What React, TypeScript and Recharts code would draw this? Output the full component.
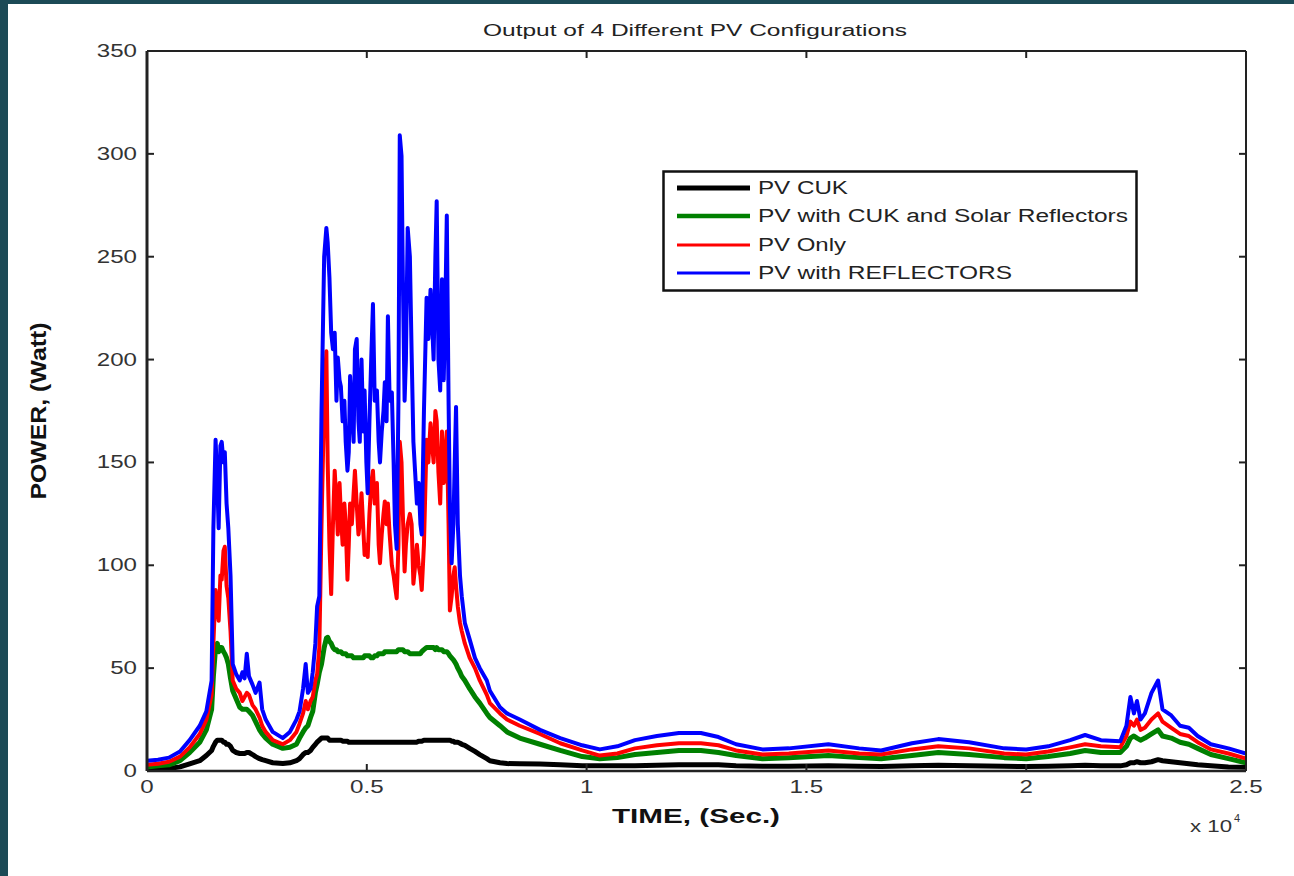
import React from 'react';
import { LineChart, Line, XAxis, YAxis, Legend } from 'recharts';

// time in units of 10^4 seconds
const timeE4 = [
  0.000, 0.025, 0.050, 0.075, 0.097, 0.120, 0.135, 0.147, 0.151, 0.156,
  0.160, 0.163, 0.167, 0.170, 0.174, 0.177, 0.181, 0.185, 0.190, 0.195,
  0.203, 0.211, 0.217, 0.222, 0.227, 0.232, 0.240, 0.247, 0.256, 0.262,
  0.270, 0.286, 0.309, 0.325, 0.340, 0.347, 0.355, 0.361, 0.366, 0.372,
  0.377, 0.383, 0.387, 0.392, 0.397, 0.403, 0.408, 0.411, 0.415, 0.419,
  0.423, 0.427, 0.431, 0.434, 0.438, 0.441, 0.445, 0.449, 0.452, 0.456,
  0.459, 0.462, 0.466, 0.470, 0.473, 0.477, 0.481, 0.484, 0.488, 0.492,
  0.495, 0.499, 0.502, 0.506, 0.510, 0.514, 0.518, 0.523, 0.527, 0.530,
  0.534, 0.538, 0.541, 0.545, 0.548, 0.552, 0.557, 0.561, 0.564, 0.568,
  0.572, 0.575, 0.579, 0.582, 0.586, 0.589, 0.593, 0.598, 0.602, 0.606,
  0.610, 0.614, 0.618, 0.622, 0.625, 0.630, 0.636, 0.640, 0.645, 0.648,
  0.652, 0.656, 0.659, 0.663, 0.667, 0.671, 0.675, 0.679, 0.682, 0.686,
  0.689, 0.693, 0.697, 0.700, 0.703, 0.707, 0.712, 0.716, 0.723, 0.734,
  0.746, 0.757, 0.773, 0.780, 0.803, 0.819, 0.848, 0.894, 0.940, 0.990,
  1.030, 1.070, 1.110, 1.160, 1.210, 1.260, 1.300, 1.340, 1.400, 1.460,
  1.550, 1.620, 1.670, 1.740, 1.800, 1.870, 1.950, 2.000, 2.050, 2.100,
  2.134, 2.170, 2.214, 2.228, 2.237, 2.245, 2.252, 2.260, 2.270, 2.285,
  2.300, 2.310, 2.330, 2.350, 2.370, 2.390, 2.420, 2.460, 2.500,
];

const pvCuk = [
  1.0, 1.0, 1.2, 2.0, 3.5, 5.0, 7.5, 10, 12, 14,
  15, 15, 15, 15, 14, 14, 13, 13, 12, 10,
  9.0, 8.5, 8.5, 8.5, 9.0, 9.0, 8.0, 7.0, 6.0, 5.5,
  5.0, 4.0, 3.6, 4.0, 5.0, 6.0, 8.0, 9.0, 9.0, 10,
  11.5, 13, 14, 15, 16, 16, 16, 16, 15, 15,
  15, 15, 15, 15, 15, 15, 14.5, 14.5, 14.5, 14.5,
  14, 14, 14, 14, 14, 14, 14, 14, 14, 14,
  14, 14, 14, 14, 14, 14, 14, 14, 14, 14,
  14, 14, 14, 14, 14, 14, 14, 14, 14, 14,
  14, 14, 14, 14, 14, 14, 14, 14, 14, 14,
  14, 14, 14.5, 14.5, 14.5, 15, 15, 15, 15, 15,
  15, 15, 15, 15, 15, 15, 15, 15, 15, 15,
  15, 14.5, 14.5, 14, 14, 14, 13.5, 13, 12.5, 11,
  9.5, 8, 6, 5, 4, 3.6, 3.5, 3.4, 3.0, 2.6,
  2.5, 2.5, 2.6, 2.8, 3.0, 3.0, 3.0, 2.6, 2.3, 2.3,
  2.5, 2.3, 2.2, 2.5, 2.8, 2.6, 2.3, 2.2, 2.3, 2.6,
  2.8, 2.6, 2.5, 3.0, 4.0, 4.0, 4.5, 4.0, 4.0, 4.5,
  5.5, 5.0, 4.5, 4.0, 3.5, 3.0, 2.5, 2.0, 1.8,
];

const pvCukReflectors = [
  2.0, 2.5, 3.0, 5.0, 9.0, 14, 20, 30, 46, 60,
  62, 58, 60, 60, 58, 57, 55, 52, 45, 39,
  35, 31, 30, 30, 30, 29, 27, 24, 20, 18,
  16, 13, 11, 11.5, 13, 16, 19, 21, 22, 26,
  29, 38, 42, 48, 52, 60, 64.5, 65, 63, 62,
  60, 59, 59, 58, 58, 58, 57, 57, 57, 56,
  56, 56, 56, 55, 55, 55, 55, 55, 55, 55,
  56, 56, 56, 56, 55, 55, 56, 56, 57, 57,
  57, 57, 58, 58, 58, 58, 58, 58, 58, 58,
  59, 59, 59, 59, 58, 58, 58, 57, 57, 57,
  57, 57, 57, 57, 58, 59, 60, 60, 60, 60,
  60, 59, 60, 59, 59, 59, 58, 58, 58, 57,
  56, 55, 54, 53, 52, 50, 48, 46, 44, 40,
  36, 33, 28, 26, 22, 19, 16, 13, 10, 7,
  6, 6.5, 8, 9, 10, 10, 9, 7.5, 6, 6.5,
  7.5, 6.5, 6, 7.5, 9, 8, 6.5, 6, 7, 8.5,
  10, 9, 9, 12, 16, 17, 16, 15, 16, 18,
  20, 17, 16, 14, 13, 11, 8, 6, 4,
];

const pvOnly = [
  3.0, 3.5, 4.5, 7.0, 11.5, 18, 25, 37, 62, 88,
  80, 73, 95, 93, 107, 109, 90, 84, 68, 44,
  40, 38, 34, 36, 38, 37, 32, 30, 26, 22,
  19, 15, 13, 15, 19, 23, 28, 34, 30, 34,
  36, 44, 47, 60, 120, 180, 204, 150, 110, 86,
  120, 146, 130, 115, 140, 125, 110, 130, 120, 93,
  110, 130, 120, 135, 146, 130, 115, 120, 135, 118,
  105, 110, 104, 125, 140, 146, 130, 140, 110, 101,
  115, 125, 131, 120, 130, 115, 100, 95, 90, 84,
  110, 160, 150, 125, 97, 110, 120, 125, 120, 91,
  100, 110, 100, 95, 88, 110, 161, 150, 169, 160,
  150, 175, 170, 145, 130, 165, 140, 155, 165, 120,
  78, 85, 95, 99, 90, 80, 72, 68, 62, 55,
  50, 44, 37, 33, 28, 25, 22, 18, 13.5, 10,
  7.5, 8.5, 11, 12.5, 13.5, 13.5, 12.5, 10, 8, 8.5,
  10, 8.5, 8, 10.5, 12, 11, 8.5, 8, 9.5, 11.5,
  13, 12, 11.5, 17, 24, 22, 25, 20, 21, 25,
  28, 24, 21, 18, 17, 14, 10.5, 8.5, 6,
];

const pvReflectors = [
  5.0, 5.5, 6.5, 9.5, 15, 22, 29, 44, 118, 161,
  140, 118, 158, 160, 150, 155, 130, 118, 95, 52,
  47, 44, 48, 45, 57, 46, 42, 38, 43, 30,
  25, 19, 16, 19, 25, 29, 40, 52, 38, 40,
  48, 62, 80, 85, 175, 250, 264, 257, 240, 213,
  205, 213, 180, 201, 190, 187, 170, 180, 160, 146,
  155, 192, 175, 160, 205, 210, 170, 160, 200, 165,
  185, 150, 135, 170, 200, 227, 180, 185, 160, 150,
  165, 175, 189, 170, 221, 180, 184, 150, 120, 108,
  180, 309, 299, 240, 180, 200, 264, 250, 203, 160,
  145, 130, 140, 120, 115, 175, 230, 210, 234, 220,
  200, 250, 277, 200, 185, 239, 190, 230, 270, 180,
  128, 101, 120, 150, 177, 120, 95, 85, 72, 64,
  55, 50, 44, 39, 31, 28, 25, 20, 16, 12.5,
  10.5, 12, 15, 17, 18.5, 18.5, 16.5, 13, 10.5, 11,
  13, 11, 10, 13.5, 15.5, 14, 11, 10.5, 12, 15,
  17.5, 15, 14.5, 22, 36, 28, 34, 25, 28, 38,
  44, 30, 27, 22, 21, 17, 13, 11, 8.5,
];

const xTicks = [0, 0.5, 1, 1.5, 2, 2.5];
const yTicks = [0, 50, 100, 150, 200, 250, 300, 350];

const series = [
  { key: 'pvCuk', name: 'PV CUK', color: '#000000', width: 5, legendWidth: 5, textLen: 90 },
  { key: 'pvCukReflectors', name: 'PV with CUK and Solar Reflectors', color: '#008000', width: 5, legendWidth: 4.5, textLen: 370 },
  { key: 'pvOnly', name: 'PV Only', color: '#ff0000', width: 4, legendWidth: 3, textLen: 88 },
  { key: 'pvReflectors', name: 'PV with REFLECTORS', color: '#0000ff', width: 4, legendWidth: 3, textLen: 254 },
];

const data = timeE4.map((t, i) => ({
  t,
  pvCuk: pvCuk[i],
  pvCukReflectors: pvCukReflectors[i],
  pvOnly: pvOnly[i],
  pvReflectors: pvReflectors[i],
}));

const FONT = '"Liberation Sans", Arial, Helvetica, sans-serif';
const AXIS = '#222222';
const TICK_TXT = '#333333';
const TICK_LEN = 7;
const GAP = 10;

const labelWidth = (s: string) => {
  let w = 0;
  for (const ch of s) w += ch === '.' ? 6.8 : 13.4;
  return w;
};

const LeftTick = (props: any) => {
  const { x, y, payload } = props;
  const ax = x + GAP;
  const s = String(payload.value);
  return (
    <g>
      <line x1={ax} x2={ax + TICK_LEN} y1={y} y2={y} stroke={AXIS} strokeWidth={2} />
      <text x={x} y={y} textAnchor="end" dominantBaseline="central" fontFamily={FONT}
        fontSize={18} fill={TICK_TXT} textLength={labelWidth(s)} lengthAdjust="spacingAndGlyphs">{s}</text>
    </g>
  );
};

const RightTick = (props: any) => {
  const { x, y } = props;
  const ax = x - GAP;
  return <line x1={ax - TICK_LEN} x2={ax} y1={y} y2={y} stroke={AXIS} strokeWidth={2} />;
};

const BottomTick = (props: any) => {
  const { x, y, payload } = props;
  const ay = y - GAP;
  const s = String(payload.value);
  return (
    <g>
      <line x1={x} x2={x} y1={ay - TICK_LEN} y2={ay} stroke={AXIS} strokeWidth={2} />
      <text x={x} y={y + 6} textAnchor="middle" dominantBaseline="central" fontFamily={FONT}
        fontSize={18} fill={TICK_TXT} textLength={labelWidth(s)} lengthAdjust="spacingAndGlyphs">{s}</text>
    </g>
  );
};

const TopTick = (props: any) => {
  const { x, y } = props;
  const ay = y + GAP;
  return <line x1={x} x2={x} y1={ay} y2={ay + TICK_LEN} stroke={AXIS} strokeWidth={2} />;
};

const LegendBox = () => {
  const rowY = [18, 46, 75, 103];
  return (
    <svg width={476} height={122} style={{ display: 'block' }}>
      <rect x={1.5} y={1.5} width={473} height={119} fill="#ffffff" stroke="#111" strokeWidth={2.5} />
      {series.map((s, i) => (
        <g key={s.key}>
          <line x1={15} x2={88} y1={rowY[i]} y2={rowY[i]} stroke={s.color} strokeWidth={s.legendWidth} />
          <text x={96} y={rowY[i]} dominantBaseline="central" fontFamily={FONT} fontSize={18}
            fill="#222" textLength={s.textLen} lengthAdjust="spacingAndGlyphs">{s.name}</text>
        </g>
      ))}
    </svg>
  );
};

export default function App() {
  return (
    <div style={{ position: 'absolute', left: 0, top: 0, width: 1294, height: 876, background: '#1c4a56', overflow: 'hidden' }}>
      <div style={{ position: 'absolute', left: 8, top: 4, right: 0, bottom: 0, background: '#ffffff' }} />
      <div style={{ position: 'absolute', left: 0, top: 0 }}>
        <LineChart width={1294} height={876} data={data} margin={{ top: 41, right: 38, bottom: 75, left: 87 }}>
          <XAxis dataKey="t" type="number" domain={[0, 2.5]} ticks={xTicks} interval={0}
            height={30} tickSize={0} tickMargin={GAP} tickLine={false}
            axisLine={{ stroke: AXIS, strokeWidth: 2.5 }} tick={<BottomTick />} allowDataOverflow />
          <XAxis xAxisId="top" orientation="top" dataKey="t" type="number" domain={[0, 2.5]} ticks={xTicks} interval={0}
            height={10} tickSize={0} tickMargin={GAP} tickLine={false}
            axisLine={{ stroke: AXIS, strokeWidth: 2 }} tick={<TopTick />} allowDataOverflow />
          <YAxis type="number" domain={[0, 350]} ticks={yTicks} interval={0}
            width={60} tickSize={0} tickMargin={GAP} tickLine={false}
            axisLine={{ stroke: AXIS, strokeWidth: 3 }} tick={<LeftTick />} allowDataOverflow />
          <YAxis yAxisId="right" orientation="right" type="number" domain={[0, 350]} ticks={yTicks} interval={0}
            width={10} tickSize={0} tickMargin={GAP} tickLine={false}
            axisLine={{ stroke: AXIS, strokeWidth: 2 }} tick={<RightTick />} allowDataOverflow />
          {series.map((s) => (
            <Line key={s.key} dataKey={s.key} name={s.name} type="linear" stroke={s.color}
              strokeWidth={s.width} dot={false} activeDot={false} isAnimationActive={false}
              strokeLinejoin="round" strokeLinecap="round" />
          ))}
          <Legend layout="vertical" align="center" verticalAlign="middle" content={<LegendBox />}
            wrapperStyle={{ position: 'absolute', left: 662, top: 170, width: 476, height: 122 }} />
        </LineChart>
      </div>
      <svg width={1294} height={876} style={{ position: 'absolute', left: 0, top: 0, pointerEvents: 'none' }}>
        <text x={695} y={30} textAnchor="middle" dominantBaseline="central" fontFamily={FONT} fontSize={16}
          fill="#222" textLength={424} lengthAdjust="spacingAndGlyphs">Output of 4 Different PV Configurations</text>
        <text x={0} y={0} transform="translate(38,411) rotate(-90)" textAnchor="middle" dominantBaseline="central"
          fontFamily={FONT} fontSize={22} fontWeight="bold" fill="#111" textLength={177} lengthAdjust="spacingAndGlyphs">POWER, (Watt)</text>
        <text x={696} y={815} textAnchor="middle" dominantBaseline="central" fontFamily={FONT} fontSize={21}
          fontWeight="bold" fill="#111" textLength={168} lengthAdjust="spacingAndGlyphs">TIME, (Sec.)</text>
        <text x={1190} y={826} dominantBaseline="central" fontFamily={FONT} fontSize={16} fill="#333"
          textLength={42} lengthAdjust="spacingAndGlyphs">x 10</text>
        <text x={1234} y={818} dominantBaseline="central" fontFamily={FONT} fontSize={11} fill="#333">4</text>
      </svg>
    </div>
  );
}
